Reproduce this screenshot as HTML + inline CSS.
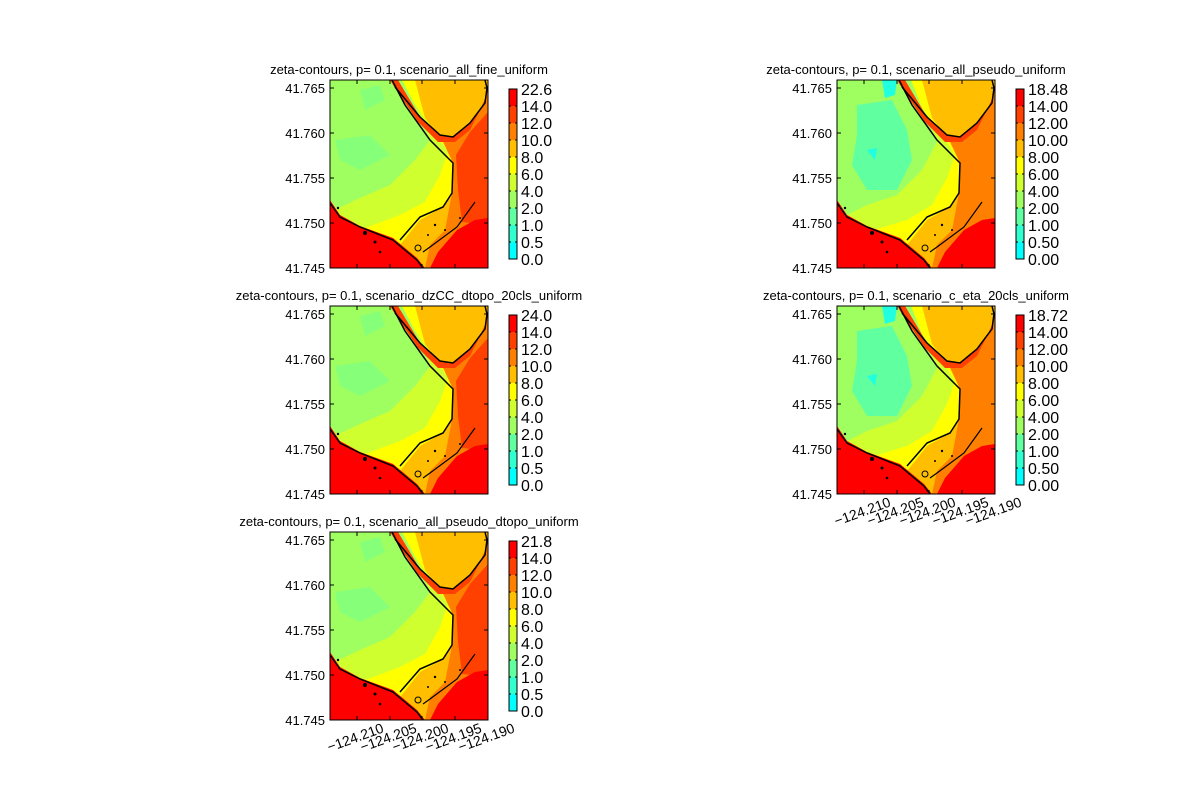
<!DOCTYPE html>
<html><head><meta charset="utf-8"><style>
html,body{margin:0;padding:0;background:#fff;}
svg{display:block;font-family:"Liberation Sans",sans-serif;}
</style></head><body>
<svg width="1200" height="800" viewBox="0 0 1200 800" xmlns="http://www.w3.org/2000/svg">
<defs>
<g id="mapA">
<rect x="0" y="0" width="158" height="188" fill="#a0ff60"/>
<path d="M30,10 L50,5 L55,20 L35,30 Z M5,60 L40,55 L60,75 L30,90 L10,80 Z" fill="#80ff80" opacity="0.8"/>
<polygon points="0,132 30,118 60,105 85,80 100,60 75,0 158,0 158,188 0,188" fill="#d0ff30"/>
<polygon points="0,145 30,150 70,135 95,122 110,95 118,72 105,52 85,25 72,0 158,0 158,188 0,188" fill="#ffff00"/>
<polygon points="85,0 158,0 158,188 70,188 70,165 90,140 113,127 122,113 123,83 112,60 95,38" fill="#ffbf00"/>
<polygon points="110,55 123,57 140,43 155,23 158,10 158,188 95,188 100,165 115,150 122,113 123,83" fill="#ff8000"/>
<polygon points="126,75 140,52 158,32 158,145 132,142 128,110" fill="#ff4000"/>
<polygon points="60,0 68,0 90,37 110,55 123,57 140,43 155,23 157,10 158,0 158,12 150,30 140,50 125,62 108,62 88,42 65,8" fill="#ff4000"/>
<polygon points="0,120 10,135 30,146 63,158 87,178 95,188 0,188" fill="#ff0000"/>
<polygon points="100,188 108,172 127,150 145,140 158,138 158,188" fill="#ff0000"/>
<polyline points="62,0 75,25 100,60 123,83 122,113 113,127 90,137 70,160" fill="none" stroke="#000" stroke-width="1.5"/>
<polyline points="0,123 10,137 30,147 63,160 87,180 93,188" fill="none" stroke="#000" stroke-width="1.5"/>
<polyline points="65,7 90,37 110,55 123,57 140,43 155,23 157,8 155,0" fill="none" stroke="#000" stroke-width="1.5"/>
<polyline points="145,122 127,147 100,167 93,172" fill="none" stroke="#000" stroke-width="1.2"/>
<g fill="#000"><circle cx="35" cy="153" r="2"/><circle cx="45" cy="162" r="1.5"/><circle cx="50" cy="172" r="1.3"/><circle cx="88" cy="168" r="3" fill="none" stroke="#000"/><circle cx="105" cy="145" r="1.2"/><circle cx="115" cy="150" r="1"/><circle cx="98" cy="155" r="1"/><circle cx="130" cy="138" r="1"/><circle cx="8" cy="128" r="1.2"/></g>
</g>
<g id="mapB">
<rect x="0" y="0" width="158" height="188" fill="#a0ff60"/>
<path d="M20,25 L55,20 L70,50 L75,80 L60,110 L30,110 L15,85 L20,55 Z" fill="#60ffa0"/>
<path d="M45,0 L60,0 L58,15 L48,18 Z M30,70 L40,68 L38,80 Z" fill="#20ffe0"/>
<polygon points="0,140 30,125 60,115 85,90 100,62 75,0 158,0 158,188 0,188" fill="#d0ff30"/>
<polygon points="0,148 30,152 70,140 95,125 110,98 118,75 105,55 85,28 74,0 158,0 158,188 0,188" fill="#ffff00"/>
<polygon points="85,0 158,0 158,188 70,188 70,165 90,140 113,127 122,113 123,83 112,60 95,38" fill="#ffbf00"/>
<polygon points="110,55 123,57 140,43 155,23 158,10 158,188 95,188 100,165 115,150 122,113 123,83" fill="#ff8000"/>
<polygon points="60,0 68,0 90,37 110,55 123,57 140,43 155,23 157,10 158,0 158,12 150,30 140,50 125,62 108,62 88,42 65,8" fill="#ff4000"/>
<polygon points="0,120 10,135 30,146 63,158 87,178 95,188 0,188" fill="#ff0000"/>
<polygon points="100,188 108,172 127,150 145,140 158,138 158,188" fill="#ff0000"/>
<polyline points="62,0 75,25 100,60 123,83 122,113 113,127 90,137 70,160" fill="none" stroke="#000" stroke-width="1.5"/>
<polyline points="0,123 10,137 30,147 63,160 87,180 93,188" fill="none" stroke="#000" stroke-width="1.5"/>
<polyline points="65,7 90,37 110,55 123,57 140,43 155,23 157,8 155,0" fill="none" stroke="#000" stroke-width="1.5"/>
<polyline points="145,122 127,147 100,167 93,172" fill="none" stroke="#000" stroke-width="1.2"/>
<g fill="#000"><circle cx="35" cy="153" r="2"/><circle cx="45" cy="162" r="1.5"/><circle cx="50" cy="172" r="1.3"/><circle cx="88" cy="168" r="3" fill="none" stroke="#000"/><circle cx="105" cy="145" r="1.2"/><circle cx="115" cy="150" r="1"/><circle cx="98" cy="155" r="1"/><circle cx="8" cy="128" r="1.2"/></g>
</g>
<g id="frame">
<rect x="0" y="0" width="158" height="188" fill="none" stroke="#000" stroke-width="1"/>
<g stroke="#000" stroke-width="1">
<line x1="0" y1="8" x2="4" y2="8"/><line x1="0" y1="53" x2="4" y2="53"/><line x1="0" y1="98" x2="4" y2="98"/><line x1="0" y1="143" x2="4" y2="143"/>
<line x1="158" y1="8" x2="154" y2="8"/><line x1="158" y1="53" x2="154" y2="53"/><line x1="158" y1="98" x2="154" y2="98"/><line x1="158" y1="143" x2="154" y2="143"/>
<line x1="27" y1="188" x2="27" y2="184"/><line x1="60" y1="188" x2="60" y2="184"/><line x1="92" y1="188" x2="92" y2="184"/><line x1="125" y1="188" x2="125" y2="184"/>
<line x1="27" y1="0" x2="27" y2="4"/><line x1="60" y1="0" x2="60" y2="4"/><line x1="92" y1="0" x2="92" y2="4"/><line x1="125" y1="0" x2="125" y2="4"/>
</g>
<g font-size="13" text-anchor="end" fill="#000">
<text x="-5" y="13">41.765</text><text x="-5" y="58">41.760</text><text x="-5" y="103">41.755</text><text x="-5" y="148">41.750</text><text x="-5" y="193">41.745</text>
</g>
</g>
<g id="cbar">
<rect x="0" y="0" width="8" height="17" fill="#ff0000"/>
<rect x="0" y="17" width="8" height="17" fill="#ff4000"/>
<rect x="0" y="34" width="8" height="17" fill="#ff8000"/>
<rect x="0" y="51" width="8" height="17" fill="#ffbf00"/>
<rect x="0" y="68" width="8" height="17" fill="#ffff00"/>
<rect x="0" y="85" width="8" height="17" fill="#d0ff30"/>
<rect x="0" y="102" width="8" height="17" fill="#a0ff60"/>
<rect x="0" y="119" width="8" height="17" fill="#60ffa0"/>
<rect x="0" y="136" width="8" height="17" fill="#30ffd0"/>
<rect x="0" y="153" width="8" height="17" fill="#00ffff"/>
<rect x="0" y="0" width="8" height="170" fill="none" stroke="#000" stroke-width="1"/>
<g stroke="#000"><line x1="0" y1="17" x2="2" y2="17"/><line x1="0" y1="34" x2="2" y2="34"/><line x1="0" y1="51" x2="2" y2="51"/><line x1="0" y1="68" x2="2" y2="68"/><line x1="0" y1="85" x2="2" y2="85"/><line x1="0" y1="102" x2="2" y2="102"/><line x1="0" y1="119" x2="2" y2="119"/><line x1="0" y1="136" x2="2" y2="136"/><line x1="0" y1="153" x2="2" y2="153"/>
<line x1="8" y1="17" x2="6" y2="17"/><line x1="8" y1="34" x2="6" y2="34"/><line x1="8" y1="51" x2="6" y2="51"/><line x1="8" y1="68" x2="6" y2="68"/><line x1="8" y1="85" x2="6" y2="85"/><line x1="8" y1="102" x2="6" y2="102"/><line x1="8" y1="119" x2="6" y2="119"/><line x1="8" y1="136" x2="6" y2="136"/><line x1="8" y1="153" x2="6" y2="153"/></g>
</g>
</defs>

<g font-size="13" text-anchor="middle" fill="#000">
<text x="409" y="74">zeta-contours, p= 0.1, scenario_all_fine_uniform</text>
<text x="916" y="74">zeta-contours, p= 0.1, scenario_all_pseudo_uniform</text>
<text x="409" y="300">zeta-contours, p= 0.1, scenario_dzCC_dtopo_20cls_uniform</text>
<text x="916" y="300">zeta-contours, p= 0.1, scenario_c_eta_20cls_uniform</text>
<text x="409" y="526">zeta-contours, p= 0.1, scenario_all_pseudo_dtopo_uniform</text>
</g>

<use href="#mapA" x="330" y="80"/><use href="#frame" x="330" y="80"/>
<use href="#mapB" x="837" y="80"/><use href="#frame" x="837" y="80"/>
<use href="#mapA" x="330" y="306"/><use href="#frame" x="330" y="306"/>
<use href="#mapB" x="837" y="306"/><use href="#frame" x="837" y="306"/>
<use href="#mapA" x="330" y="532"/><use href="#frame" x="330" y="532"/>

<use href="#cbar" x="509" y="89"/>
<use href="#cbar" x="1016" y="89"/>
<use href="#cbar" x="509" y="315"/>
<use href="#cbar" x="1016" y="315"/>
<use href="#cbar" x="509" y="541"/>

<g font-size="16" fill="#000">
<g transform="translate(521,95)"><text y="0">22.6</text><text y="17">14.0</text><text y="34">12.0</text><text y="51">10.0</text><text y="68">8.0</text><text y="85">6.0</text><text y="102">4.0</text><text y="119">2.0</text><text y="136">1.0</text><text y="153">0.5</text><text y="170">0.0</text></g>
<g transform="translate(1028,95)"><text y="0">18.48</text><text y="17">14.00</text><text y="34">12.00</text><text y="51">10.00</text><text y="68">8.00</text><text y="85">6.00</text><text y="102">4.00</text><text y="119">2.00</text><text y="136">1.00</text><text y="153">0.50</text><text y="170">0.00</text></g>
<g transform="translate(521,321)"><text y="0">24.0</text><text y="17">14.0</text><text y="34">12.0</text><text y="51">10.0</text><text y="68">8.0</text><text y="85">6.0</text><text y="102">4.0</text><text y="119">2.0</text><text y="136">1.0</text><text y="153">0.5</text><text y="170">0.0</text></g>
<g transform="translate(1028,321)"><text y="0">18.72</text><text y="17">14.00</text><text y="34">12.00</text><text y="51">10.00</text><text y="68">8.00</text><text y="85">6.00</text><text y="102">4.00</text><text y="119">2.00</text><text y="136">1.00</text><text y="153">0.50</text><text y="170">0.00</text></g>
<g transform="translate(521,547)"><text y="0">21.8</text><text y="17">14.0</text><text y="34">12.0</text><text y="51">10.0</text><text y="68">8.0</text><text y="85">6.0</text><text y="102">4.0</text><text y="119">2.0</text><text y="136">1.0</text><text y="153">0.5</text><text y="170">0.0</text></g>
</g>

<g font-size="14" fill="#000" text-anchor="middle">
<text transform="translate(357,742) rotate(-20)">−124.210</text>
<text transform="translate(390,742) rotate(-20)">−124.205</text>
<text transform="translate(422,742) rotate(-20)">−124.200</text>
<text transform="translate(455,742) rotate(-20)">−124.195</text>
<text transform="translate(488,742) rotate(-20)">−124.190</text>
<text transform="translate(864,516) rotate(-20)">−124.210</text>
<text transform="translate(897,516) rotate(-20)">−124.205</text>
<text transform="translate(929,516) rotate(-20)">−124.200</text>
<text transform="translate(962,516) rotate(-20)">−124.195</text>
<text transform="translate(995,516) rotate(-20)">−124.190</text>
</g>
</svg>
</body></html>
